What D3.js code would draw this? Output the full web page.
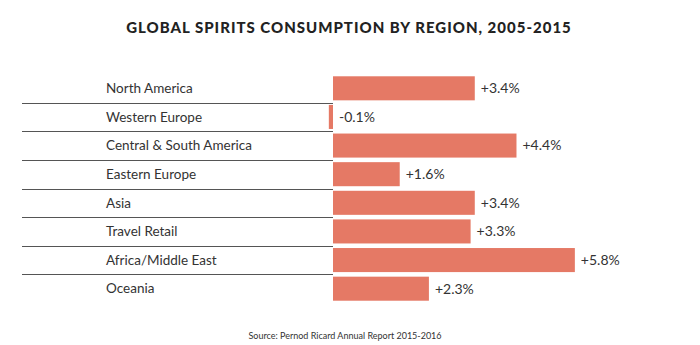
<!DOCTYPE html>
<html>
<head>
<meta charset="utf-8">
<script src="https://cdn.jsdelivr.net/npm/d3@7"></script>
<style>
  body { margin: 0; background: #fff; }
  text { font-family: Lato, "Open Sans", sans-serif; }
</style>
</head>
<body>
<div id="chart"></div>
<script>
const width = 700;
const height = 345;

const regions = ["North America", "Western Europe", "Central & South America", "Eastern Europe",
    "Asia", "Travel Retail", "Africa/Middle East", "Oceania"];
const growth = [3.4, -0.1, 4.4, 1.6, 3.4, 3.3, 5.8, 2.3];
const valueLabels = ["+3.4%", "-0.1%", "+4.4%", "+1.6%", "+3.4%", "+3.3%", "+5.8%", "+2.3%"];

const data = regions.map((r, i) => ({ region: r, value: growth[i], label: valueLabels[i] }));

const svg = d3.select("#chart")
    .append("svg")
    .attr("width", width)
    .attr("height", height);

// scales
const x = d3.scaleLinear()
    .domain([0, 6])
    .range([333, 333 + 6 * 41.7]);

const y = d3.scaleBand()
    .domain(regions)
    .range([74, 303])
    .paddingInner(0.16)
    .paddingOuter(0.08);

// title
svg.append("text")
    .attr("x", 349)
    .attr("y", 33)
    .attr("text-anchor", "middle")
    .attr("font-size", 15)
    .attr("font-weight", 900)
    .attr("letter-spacing", 1.0)
    .attr("fill", "#222")
    .text("GLOBAL SPIRITS CONSUMPTION BY REGION, 2005-2015");

// separators between rows
const step = y.step();
svg.append("g")
    .selectAll("line")
    .data(regions.slice(1))
    .join("line")
    .attr("x1", 22)
    .attr("x2", x(0))
    .attr("y1", d => Math.round(y(d) - step * y.paddingInner() / 2) + 0.5)
    .attr("y2", d => Math.round(y(d) - step * y.paddingInner() / 2) + 0.5)
    .attr("stroke", "#555")
    .attr("stroke-width", 1);

// region labels
svg.append("g")
    .selectAll("text")
    .data(data)
    .join("text")
    .attr("x", 106)
    .attr("y", d => y(d.region) + y.bandwidth() / 2)
    .attr("dy", "0.35em")
    .attr("font-size", 13.5)
    .attr("fill", "#333")
    .text(d => d.region);

// bars
svg.append("g")
    .selectAll("rect")
    .data(data)
    .join("rect")
    .attr("x", d => x(Math.min(0, d.value)))
    .attr("y", d => y(d.region))
    .attr("width", d => Math.abs(x(d.value) - x(0)))
    .attr("height", y.bandwidth())
    .attr("fill", "#e57965");

// value labels
svg.append("g")
    .selectAll("text")
    .data(data)
    .join("text")
    .attr("x", d => x(Math.max(0, d.value)) + 6)
    .attr("y", d => y(d.region) + y.bandwidth() / 2)
    .attr("dy", "0.35em")
    .attr("font-size", 14)
    .attr("fill", "#333")
    .text(d => d.label);

// source
svg.append("text")
    .attr("x", 345)
    .attr("y", 339)
    .attr("text-anchor", "middle")
    .attr("font-size", 9)
    .attr("fill", "#333")
    .text("Source: Pernod Ricard Annual Report 2015-2016");
</script>
</body>
</html>
